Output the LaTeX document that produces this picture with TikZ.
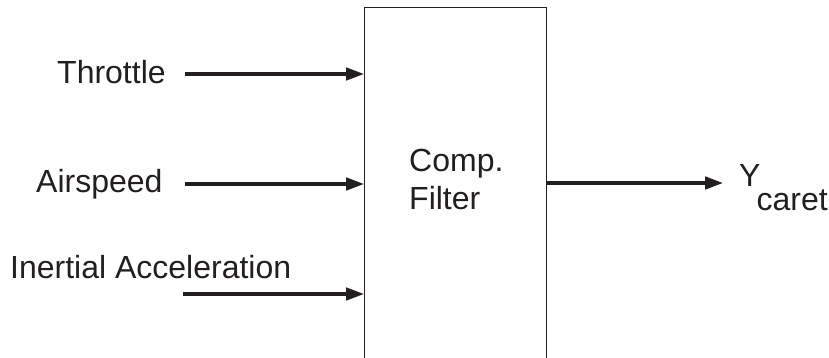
\documentclass[tikz,border=0pt]{standalone}
\usepackage{fontspec}
\setmainfont{Liberation Sans}
\usetikzlibrary{arrows.meta}
\definecolor{ink}{RGB}{35,31,32}
\begin{document}
\begin{tikzpicture}[x=1pt,y=-1pt,
  lbl/.style={anchor=base west,inner sep=0pt,text=ink,font=\fontsize{32}{38}\selectfont},
  arr/.style={draw=ink,line width=3.2pt,-{Triangle[length=18pt,width=12.5pt]}},
  blk/.style={draw=ink,line width=1.3pt,rectangle,inner sep=0pt,anchor=north west}]
\useasboundingbox (0,0) rectangle (829,358);
\clip (0,0) rectangle (829,358);
% filter block, open at the bottom edge of the picture
\node[blk,minimum width=181.5pt,minimum height=380pt] (filter) at (364,7) {};
\node[lbl,anchor=west,align=left] (ftext) at (409,179.7) {Comp.\\Filter};
% inputs
\node[lbl] (throttle) at (57,84) {Throttle};
\node[lbl] (airspeed) at (36,193) {Airspeed};
\node[lbl] (inertial) at (10,278) {Inertial Acceleration};
\coordinate (t0) at (185,74);
\coordinate (a0) at (185,184);
\coordinate (i0) at (183,294);
\draw[arr] (t0) -- (t0 -| filter.west);
\draw[arr] (a0) -- (a0 -| filter.west);
\draw[arr] (i0) -- (i0 -| filter.west);
% output
\node[lbl] (ycaret) at (739,186) {Y\kern-4pt\raisebox{-24pt}{caret}};
\coordinate (o1) at (723,183);
\draw[arr] (o1 -| filter.east) -- (o1);
\end{tikzpicture}
\end{document}
